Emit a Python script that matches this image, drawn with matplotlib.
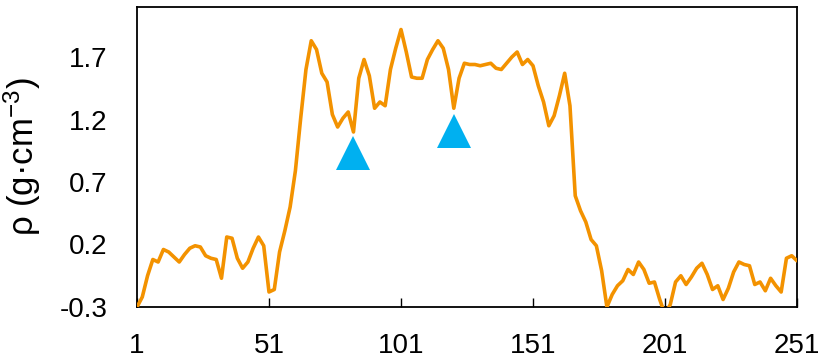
import numpy as np
import matplotlib
matplotlib.use("Agg")
import matplotlib.pyplot as plt

plt.rcParams["font.family"] = ["Liberation Sans", "DejaVu Sans"]
plt.rcParams["mathtext.fontset"] = "custom"
plt.rcParams["mathtext.rm"] = "Liberation Sans"
plt.rcParams["mathtext.it"] = "Liberation Sans:italic"

# Density profile along the sample
position = list(range(1, 252, 2))
density = [
    -0.30, -0.22, -0.05, 0.08, 0.06, 0.16, 0.14, 0.10, 0.06, 0.12,
    0.17, 0.19, 0.18, 0.11, 0.09, 0.08, -0.07, 0.26, 0.25, 0.09,
    0.01, 0.06, 0.17, 0.26, 0.19, -0.18, -0.16, 0.14, 0.31, 0.50,
    0.79, 1.21, 1.60, 1.83, 1.76, 1.57, 1.50, 1.24, 1.14, 1.21,
    1.26, 1.10, 1.53, 1.68, 1.55, 1.29, 1.34, 1.31, 1.60, 1.77,
    1.92, 1.74, 1.54, 1.53, 1.53, 1.68, 1.76, 1.83, 1.77, 1.60,
    1.29, 1.53, 1.65, 1.64, 1.64, 1.63, 1.64, 1.65, 1.61, 1.60,
    1.65, 1.70, 1.74, 1.64, 1.68, 1.63, 1.47, 1.34, 1.15, 1.23,
    1.39, 1.57, 1.31, 0.59, 0.47, 0.38, 0.24, 0.19, -0.01, -0.30,
    -0.20, -0.13, -0.09, 0.00, -0.04, 0.06, 0.00, -0.11, -0.10, -0.24,
    -0.36, -0.28, -0.10, -0.05, -0.12, -0.06, 0.01, 0.05, -0.04, -0.16,
    -0.13, -0.24, -0.15, -0.02, 0.06, 0.04, 0.03, -0.12, -0.10, -0.17,
    -0.07, -0.13, -0.18, 0.09, 0.11, 0.07,
]

# Marked low-density positions
marker_pos = [83, 121]
marker_val = [0.93, 1.11]

x_ticks = [1, 51, 101, 151, 201, 251]
y_ticks = [-0.3, 0.2, 0.7, 1.2, 1.7]

fig = plt.figure(figsize=(8.21, 3.60), dpi=100)
ax = fig.add_axes([137 / 821, 53 / 360, 660 / 821, 300 / 360])

ax.plot(position, density, color="#F39200", lw=2.6, solid_joinstyle="round",
        solid_capstyle="round", zorder=3)
ax.plot(marker_pos, marker_val, linestyle="none", marker="^", markersize=24,
        color="#00B0F0", markeredgewidth=0, zorder=4)

ax.set_xlim(1, 251)
ax.set_ylim(-0.3, 2.1)
ax.set_xticks(x_ticks)
ax.set_xticklabels([str(t) for t in x_ticks])
ax.set_yticks(y_ticks)
ax.set_yticklabels([f"{t:.1f}" for t in y_ticks])

ax.tick_params(axis="x", direction="in", length=6.5, width=1.0, pad=19,
               labelsize=20, colors="black")
ax.tick_params(axis="y", length=0, pad=21, labelsize=20, colors="black")

for sp in ax.spines.values():
    sp.set_linewidth(1.3)
    sp.set_color("black")

ax.set_ylabel(r"ρ (g·cm$^{\mathregular{-3}}$)", fontsize=25)
ax.yaxis.set_label_coords(-0.142, 0.5)

fig.savefig("out.png", dpi=100)
